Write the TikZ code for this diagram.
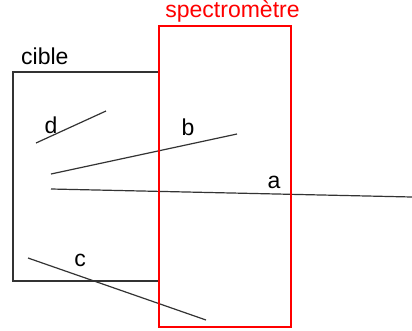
\documentclass[tikz,border=0pt]{standalone}
\usepackage{fontspec}
\setmainfont{Liberation Sans}
\usetikzlibrary{positioning}

\begin{document}
\begin{tikzpicture}[
    x=1pt, y=-1pt,
    every node/.style={font=\fontsize{23}{26}\selectfont, inner sep=0pt},
    label/.style={anchor=base},
    ray/.style={draw=black!80, line width=1.2pt},
    target/.style={draw=black!80, line width=1.2pt},
    spectro/.style={draw=red, line width=1.4pt}
]
\useasboundingbox (0,0) rectangle (412,330);
% cible
\coordinate (ctl) at (13,72);
\coordinate (ctr) at (159,72);
\coordinate (cbl) at (13,281);
\coordinate (cbr) at (159,281);
\draw[target] (ctr) -- (ctl) -- (cbl) -- (cbr);
\node[label, anchor=base west] (cibletitle) at (21,64) {cible};
% trajectoires
\coordinate (a1) at (51,189);
\coordinate (a2) at (412,197);
\coordinate (b1) at (51,174);
\coordinate (b2) at (237,134);
\coordinate (c1) at (28,258);
\coordinate (c2) at (206,320);
\coordinate (d1) at (36,143);
\coordinate (d2) at (106,111);
\draw[ray] (a1) -- (a2);
\draw[ray] (b1) -- (b2);
\draw[ray] (c1) -- (c2);
\draw[ray] (d1) -- (d2);
\node[label] (la) at (274,188) {a};
\node[label] (lb) at (188,135) {b};
\node[label] (lc) at (80,266) {c};
\node[label] (ld) at (51,133) {d};
% spectrometre
\coordinate (stl) at (159,26);
\coordinate (sbr) at (291,327);
\draw[spectro] (stl) rectangle (sbr);
\node[label, text=red] (spectitle) at (232.5,17) {spectromètre};
\end{tikzpicture}
\end{document}
